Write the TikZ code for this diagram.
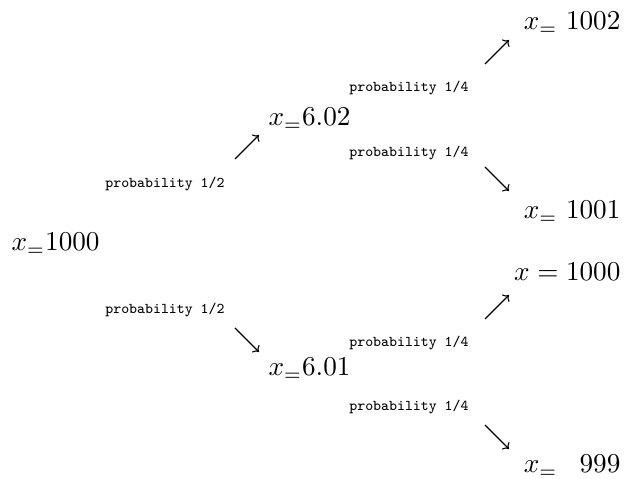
\documentclass[tikz,border=0pt]{standalone}
\usetikzlibrary{arrows.meta}
\begin{document}
\begin{tikzpicture}[x=0.3676pt,y=-0.3676pt,
  val/.style={inner sep=0pt,anchor=base west},
  rval/.style={inner sep=0pt,anchor=base east},
  prob/.style={inner sep=0pt,anchor=base,font=\fontsize{5.5}{6}\selectfont\ttfamily},
  arr/.style={-{Computer Modern Rightarrow[length=1.9pt,width=3.8pt]},line width=0.4pt}]
\useasboundingbox (0,0) rectangle (624,479);
% values
\node[val] (root) at (11,251) {$x_=1000$};
\node[val] (n602) at (268,126) {$x_=6.02$};
\node[val] (n601) at (268,376) {$x_=6.01$};
\node[rval] (n1002) at (621,30) {\makebox[35.5pt]{$x_=$\hfill$1002$}};
\node[rval] (n1001) at (621,219) {\makebox[35.5pt]{$x_=$\hfill$1001$}};
\node[rval] (n1000) at (621,281) {$x = 1000$};
\node[rval] (n999) at (621,473) {\makebox[35.5pt]{$x_=$\hfill$999$}};
% probability labels
\node[prob] (p1) at (165,188) {probability 1/2};
\node[prob] (p2) at (165,314) {probability 1/2};
\node[prob] (p3) at (409,92) {probability 1/4};
\node[prob] (p4) at (409,157) {probability 1/4};
\node[prob] (p5) at (409,347) {probability 1/4};
\node[prob] (p6) at (409,411) {probability 1/4};
% arrows
\coordinate (a1s) at (235,159); \coordinate (a1e) at (259,135);
\coordinate (a2s) at (235,328); \coordinate (a2e) at (259,352);
\coordinate (a3s) at (485,64);  \coordinate (a3e) at (509,40);
\coordinate (a4s) at (485,167); \coordinate (a4e) at (509,191);
\coordinate (a5s) at (485,319); \coordinate (a5e) at (509,295);
\coordinate (a6s) at (485,425); \coordinate (a6e) at (509,449);
\draw[arr] (a1s) -- (a1e);
\draw[arr] (a2s) -- (a2e);
\draw[arr] (a3s) -- (a3e);
\draw[arr] (a4s) -- (a4e);
\draw[arr] (a5s) -- (a5e);
\draw[arr] (a6s) -- (a6e);
\end{tikzpicture}
\end{document}
